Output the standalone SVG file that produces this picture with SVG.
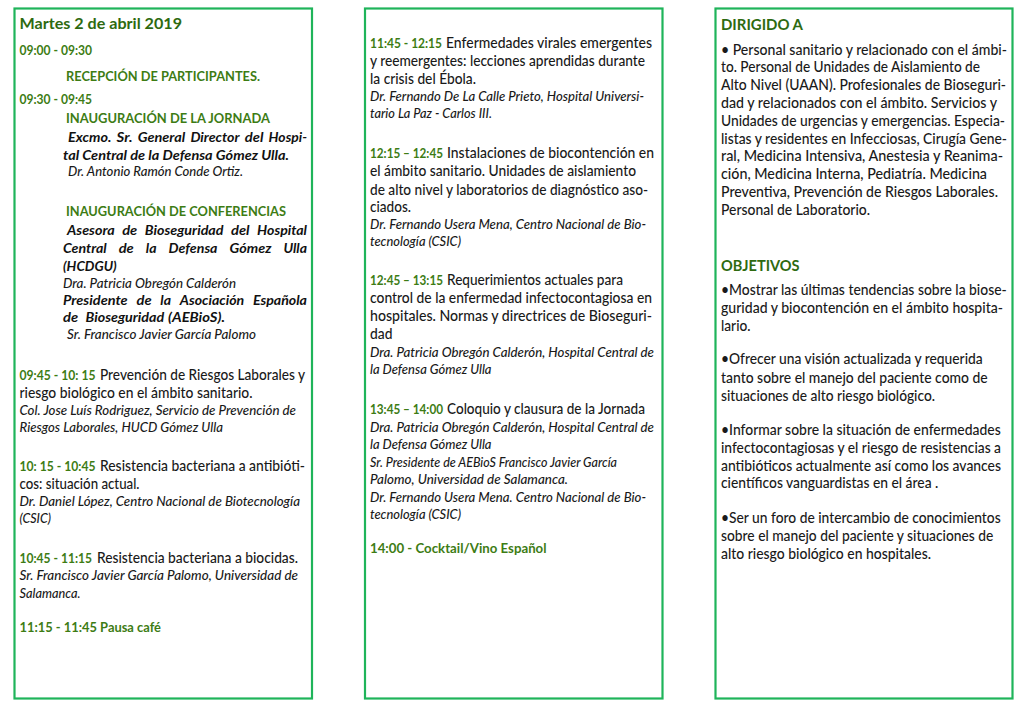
<svg xmlns="http://www.w3.org/2000/svg" width="1024" height="708" viewBox="0 0 1024 708">
<style>
text { font-family: Lato, "Open Sans", "Liberation Sans", sans-serif; }
.b { font-size: 14.5px; font-weight: 500; fill: #1a1a1a; }
.i { font-size: 13px; font-style: italic; font-weight: 500; fill: #1a1a1a; }
.bi { font-size: 13.3px; font-style: italic; font-weight: 700; fill: #111111; }
.g { font-size: 12.3px; font-weight: 700; fill: #3d7c14; }
.gh { font-size: 12.8px; font-weight: 700; fill: #3d7c14; }
.gl { font-size: 13.5px; font-weight: 700; fill: #3d7c14; }
.h { font-size: 16px; font-weight: 700; fill: #2e6a10; }
.box { fill: #ffffff; stroke: #1fb45a; stroke-width: 2.2; }
</style>
<rect x="0" y="0" width="1024" height="708" fill="#ffffff"/>

<g id="col-left">
<rect class="box" x="14.5" y="8.5" width="297.5" height="690"/>
<text class="h" x="19.5" y="29" textLength="162.5" lengthAdjust="spacingAndGlyphs">Martes 2 de abril 2019</text>
<text class="g" x="19.5" y="55" textLength="72.5" lengthAdjust="spacingAndGlyphs">09:00 - 09:30</text>
<text class="gh" x="66" y="81" textLength="194" lengthAdjust="spacingAndGlyphs">RECEPCIÓN DE PARTICIPANTES.</text>
<text class="g" x="19.5" y="104" textLength="72.5" lengthAdjust="spacingAndGlyphs">09:30 - 09:45</text>
<text class="gh" x="66" y="123" textLength="204" lengthAdjust="spacingAndGlyphs">INAUGURACIÓN DE LA JORNADA</text>
<text class="bi" x="68" y="142" textLength="43.4" lengthAdjust="spacingAndGlyphs">Excmo.</text>
<text class="bi" x="116.6" y="142" textLength="15.9" lengthAdjust="spacingAndGlyphs">Sr.</text>
<text class="bi" x="137.7" y="142" textLength="47.5" lengthAdjust="spacingAndGlyphs">General</text>
<text class="bi" x="190.4" y="142" textLength="49.2" lengthAdjust="spacingAndGlyphs">Director</text>
<text class="bi" x="244.8" y="142" textLength="18.6" lengthAdjust="spacingAndGlyphs">del</text>
<text class="bi" x="268.6" y="142" textLength="38.4" lengthAdjust="spacingAndGlyphs">Hospi-</text>
<text class="bi" x="63" y="160" textLength="226" lengthAdjust="spacingAndGlyphs">tal Central de la Defensa Gómez Ulla.</text>
<text class="i" x="68" y="176" textLength="175" lengthAdjust="spacingAndGlyphs">Dr. Antonio Ramón Conde Ortiz.</text>
<text class="gh" x="66" y="215.7" textLength="220" lengthAdjust="spacingAndGlyphs">INAUGURACIÓN DE CONFERENCIAS</text>
<text class="bi" x="67" y="235" textLength="47.7" lengthAdjust="spacingAndGlyphs">Asesora</text>
<text class="bi" x="122.2" y="235" textLength="15.1" lengthAdjust="spacingAndGlyphs">de</text>
<text class="bi" x="144.8" y="235" textLength="78.7" lengthAdjust="spacingAndGlyphs">Bioseguridad</text>
<text class="bi" x="231" y="235" textLength="18.6" lengthAdjust="spacingAndGlyphs">del</text>
<text class="bi" x="257.1" y="235" textLength="49.9" lengthAdjust="spacingAndGlyphs">Hospital</text>
<text class="bi" x="63" y="253" textLength="43.7" lengthAdjust="spacingAndGlyphs">Central</text>
<text class="bi" x="118.7" y="253" textLength="15.1" lengthAdjust="spacingAndGlyphs">de</text>
<text class="bi" x="145.8" y="253" textLength="10.7" lengthAdjust="spacingAndGlyphs">la</text>
<text class="bi" x="168.5" y="253" textLength="49" lengthAdjust="spacingAndGlyphs">Defensa</text>
<text class="bi" x="229.5" y="253" textLength="41.9" lengthAdjust="spacingAndGlyphs">Gómez</text>
<text class="bi" x="283.4" y="253" textLength="23.6" lengthAdjust="spacingAndGlyphs">Ulla</text>
<text class="bi" x="63" y="270.7" textLength="53.7" lengthAdjust="spacingAndGlyphs">(HCDGU)</text>
<text class="i" x="63" y="287.7" textLength="173" lengthAdjust="spacingAndGlyphs">Dra. Patricia Obregón Calderón</text>
<text class="bi" x="63" y="305" textLength="64.7" lengthAdjust="spacingAndGlyphs">Presidente</text>
<text class="bi" x="136.5" y="305" textLength="15.1" lengthAdjust="spacingAndGlyphs">de</text>
<text class="bi" x="160.3" y="305" textLength="10.7" lengthAdjust="spacingAndGlyphs">la</text>
<text class="bi" x="179.8" y="305" textLength="64.4" lengthAdjust="spacingAndGlyphs">Asociación</text>
<text class="bi" x="252.9" y="305" textLength="54.1" lengthAdjust="spacingAndGlyphs">Española</text>
<text class="bi" x="63" y="321.7" textLength="15.1" lengthAdjust="spacingAndGlyphs">de</text>
<text class="bi" x="85.5" y="321.7" textLength="78.7" lengthAdjust="spacingAndGlyphs">Bioseguridad</text>
<text class="bi" x="168" y="321.7" textLength="57" lengthAdjust="spacingAndGlyphs">(AEBioS).</text>
<text class="i" x="67" y="339" textLength="189" lengthAdjust="spacingAndGlyphs">Sr. Francisco Javier García Palomo</text>

<text class="g" x="19.5" y="380" textLength="76" lengthAdjust="spacingAndGlyphs">09:45 - 10: 15</text>
<text class="b" x="100" y="380" textLength="205" lengthAdjust="spacingAndGlyphs">Prevención de Riesgos Laborales y</text>
<text class="b" x="19.5" y="397.5" textLength="233" lengthAdjust="spacingAndGlyphs">riesgo biológico en el ámbito sanitario.</text>
<text class="i" x="19.5" y="414.5" textLength="276.5" lengthAdjust="spacingAndGlyphs">Col. Jose Luís Rodriguez, Servicio de Prevención de</text>
<text class="i" x="19.5" y="431.7" textLength="203.5" lengthAdjust="spacingAndGlyphs">Riesgos Laborales, HUCD Gómez Ulla</text>

<text class="g" x="19.5" y="471" textLength="76" lengthAdjust="spacingAndGlyphs">10: 15 - 10:45</text>
<text class="b" x="100" y="471" textLength="205" lengthAdjust="spacingAndGlyphs">Resistencia bacteriana a antibióti-</text>
<text class="b" x="19.5" y="488.5" textLength="120" lengthAdjust="spacingAndGlyphs">cos: situación actual.</text>
<text class="i" x="19.5" y="505.7" textLength="280.5" lengthAdjust="spacingAndGlyphs">Dr. Daniel López, Centro Nacional de Biotecnología</text>
<text class="i" x="19.5" y="523.3" textLength="31.5" lengthAdjust="spacingAndGlyphs">(CSIC)</text>

<text class="g" x="19.5" y="563.3" textLength="72.5" lengthAdjust="spacingAndGlyphs">10:45 - 11:15</text>
<text class="b" x="97" y="563.3" textLength="201" lengthAdjust="spacingAndGlyphs">Resistencia bacteriana a biocidas.</text>
<text class="i" x="19.5" y="580.3" textLength="278.5" lengthAdjust="spacingAndGlyphs">Sr. Francisco Javier García Palomo, Universidad de</text>
<text class="i" x="19.5" y="597.7" textLength="61" lengthAdjust="spacingAndGlyphs">Salamanca.</text>

<text class="gl" x="19.5" y="631.7" textLength="141.5" lengthAdjust="spacingAndGlyphs">11:15 - 11:45 Pausa café</text>
</g>

<g id="col-middle">
<rect class="box" x="365" y="8.5" width="297.5" height="690"/>
<text class="g" x="370" y="48.3" textLength="72" lengthAdjust="spacingAndGlyphs">11:45 - 12:15</text>
<text class="b" x="446" y="48.3" textLength="206" lengthAdjust="spacingAndGlyphs">Enfermedades virales emergentes</text>
<text class="b" x="370" y="66.3" textLength="275" lengthAdjust="spacingAndGlyphs">y reemergentes: lecciones aprendidas durante</text>
<text class="b" x="370" y="84.2" textLength="106" lengthAdjust="spacingAndGlyphs">la crisis del Ébola.</text>
<text class="i" x="370" y="101" textLength="274" lengthAdjust="spacingAndGlyphs">Dr. Fernando De La Calle Prieto, Hospital Universi-</text>
<text class="i" x="370" y="117.7" textLength="122" lengthAdjust="spacingAndGlyphs">tario La Paz - Carlos III.</text>

<text class="g" x="370" y="158.3" textLength="73" lengthAdjust="spacingAndGlyphs">12:15 – 12:45</text>
<text class="b" x="447" y="158.3" textLength="207" lengthAdjust="spacingAndGlyphs">Instalaciones de biocontención en</text>
<text class="b" x="370" y="176.4" textLength="266" lengthAdjust="spacingAndGlyphs">el ámbito sanitario. Unidades de aislamiento</text>
<text class="b" x="370" y="194.5" textLength="278" lengthAdjust="spacingAndGlyphs">de alto nivel y laboratorios de diagnóstico aso-</text>
<text class="b" x="370" y="212" textLength="41" lengthAdjust="spacingAndGlyphs">ciados.</text>
<text class="i" x="370" y="228.8" textLength="276" lengthAdjust="spacingAndGlyphs">Dr. Fernando Usera Mena, Centro Nacional de Bio-</text>
<text class="i" x="370" y="245.5" textLength="91" lengthAdjust="spacingAndGlyphs">tecnología (CSIC)</text>

<text class="g" x="370" y="285" textLength="73" lengthAdjust="spacingAndGlyphs">12:45 – 13:15</text>
<text class="b" x="447" y="285" textLength="176" lengthAdjust="spacingAndGlyphs">Requerimientos actuales para</text>
<text class="b" x="370" y="303" textLength="282" lengthAdjust="spacingAndGlyphs">control de la enfermedad infectocontagiosa en</text>
<text class="b" x="370" y="321" textLength="282" lengthAdjust="spacingAndGlyphs">hospitales. Normas y directrices de Bioseguri-</text>
<text class="b" x="370" y="338.6" textLength="22.5" lengthAdjust="spacingAndGlyphs">dad</text>
<text class="i" x="370" y="356.6" textLength="284" lengthAdjust="spacingAndGlyphs">Dra. Patricia Obregón Calderón, Hospital Central de</text>
<text class="i" x="370" y="373.5" textLength="121.5" lengthAdjust="spacingAndGlyphs">la Defensa Gómez Ulla</text>

<text class="g" x="370" y="414.2" textLength="73" lengthAdjust="spacingAndGlyphs">13:45 – 14:00</text>
<text class="b" x="447" y="414.2" textLength="198" lengthAdjust="spacingAndGlyphs">Coloquio y clausura de la Jornada</text>
<text class="i" x="370" y="431.6" textLength="284" lengthAdjust="spacingAndGlyphs">Dra. Patricia Obregón Calderón, Hospital Central de</text>
<text class="i" x="370" y="449.2" textLength="121.5" lengthAdjust="spacingAndGlyphs">la Defensa Gómez Ulla</text>
<text class="i" x="370" y="466.7" textLength="247" lengthAdjust="spacingAndGlyphs">Sr. Presidente de AEBioS Francisco Javier García</text>
<text class="i" x="370" y="484" textLength="198" lengthAdjust="spacingAndGlyphs">Palomo, Universidad de Salamanca.</text>
<text class="i" x="370" y="501.6" textLength="276" lengthAdjust="spacingAndGlyphs">Dr. Fernando Usera Mena. Centro Nacional de Bio-</text>
<text class="i" x="370" y="519" textLength="91" lengthAdjust="spacingAndGlyphs">tecnología (CSIC)</text>

<text class="gl" x="370" y="553.3" textLength="176.5" lengthAdjust="spacingAndGlyphs">14:00 - Cocktail/Vino Español</text>
</g>

<g id="col-right">
<rect class="box" x="715.5" y="8.5" width="297" height="690"/>
<text class="h" x="721" y="30" textLength="82" lengthAdjust="spacingAndGlyphs">DIRIGIDO A</text>
<text class="b" x="721" y="54.5" textLength="286" lengthAdjust="spacingAndGlyphs">• Personal sanitario y relacionado con el ámbi-</text>
<text class="b" x="721" y="72.3" textLength="259" lengthAdjust="spacingAndGlyphs">to. Personal de Unidades de Aislamiento de</text>
<text class="b" x="721" y="90.1" textLength="285" lengthAdjust="spacingAndGlyphs">Alto Nivel (UAAN). Profesionales de Bioseguri-</text>
<text class="b" x="721" y="107.9" textLength="276" lengthAdjust="spacingAndGlyphs">dad y relacionados con el ámbito. Servicios y</text>
<text class="b" x="721" y="125.7" textLength="284" lengthAdjust="spacingAndGlyphs">Unidades de urgencias y emergencias. Especia-</text>
<text class="b" x="721" y="143.5" textLength="286" lengthAdjust="spacingAndGlyphs">listas y residentes en Infecciosas, Cirugía Gene-</text>
<text class="b" x="721" y="161.3" textLength="282" lengthAdjust="spacingAndGlyphs">ral, Medicina Intensiva, Anestesia y Reanima-</text>
<text class="b" x="721" y="179.1" textLength="266" lengthAdjust="spacingAndGlyphs">ción, Medicina Interna, Pediatría. Medicina</text>
<text class="b" x="721" y="196.9" textLength="277" lengthAdjust="spacingAndGlyphs">Preventiva, Prevención de Riesgos Laborales.</text>
<text class="b" x="721" y="214.7" textLength="149" lengthAdjust="spacingAndGlyphs">Personal de Laboratorio.</text>

<text class="h" x="721" y="270.7" textLength="78.5" lengthAdjust="spacingAndGlyphs">OBJETIVOS</text>
<text class="b" x="721" y="295" textLength="285.7" lengthAdjust="spacingAndGlyphs">•Mostrar las últimas tendencias sobre la biose-</text>
<text class="b" x="721" y="313" textLength="282" lengthAdjust="spacingAndGlyphs">guridad y biocontención en el ámbito hospita-</text>
<text class="b" x="721" y="331" textLength="29.5" lengthAdjust="spacingAndGlyphs">lario.</text>
<text class="b" x="721" y="364.3" textLength="261.7" lengthAdjust="spacingAndGlyphs">•Ofrecer una visión actualizada y requerida</text>
<text class="b" x="721" y="382.5" textLength="266.7" lengthAdjust="spacingAndGlyphs">tanto sobre el manejo del paciente como de</text>
<text class="b" x="721" y="400.5" textLength="214" lengthAdjust="spacingAndGlyphs">situaciones de alto riesgo biológico.</text>
<text class="b" x="721" y="434.7" textLength="279.7" lengthAdjust="spacingAndGlyphs">•Informar sobre la situación de enfermedades</text>
<text class="b" x="721" y="452.5" textLength="280" lengthAdjust="spacingAndGlyphs">infectocontagiosas y el riesgo de resistencias a</text>
<text class="b" x="721" y="470.5" textLength="280" lengthAdjust="spacingAndGlyphs">antibióticos actualmente así como los avances</text>
<text class="b" x="721" y="488.3" textLength="217.3" lengthAdjust="spacingAndGlyphs">científicos vanguardistas en el área .</text>
<text class="b" x="721" y="523" textLength="279.7" lengthAdjust="spacingAndGlyphs">•Ser un foro de intercambio de conocimientos</text>
<text class="b" x="721" y="541" textLength="272.3" lengthAdjust="spacingAndGlyphs">sobre el manejo del paciente y situaciones de</text>
<text class="b" x="721" y="559" textLength="210" lengthAdjust="spacingAndGlyphs">alto riesgo biológico en hospitales.</text>
</g>

<g id="connectors"></g>
</svg>
